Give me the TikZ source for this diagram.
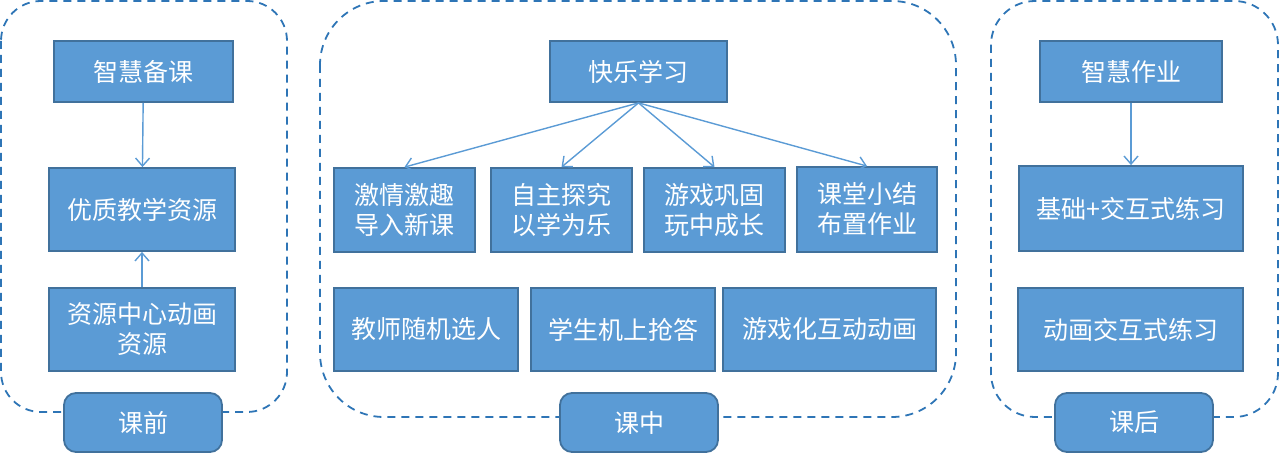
\documentclass[tikz,border=0pt]{standalone}
\usepackage{fontspec}
\setmainfont{Noto Sans CJK SC}
\usetikzlibrary{arrows.meta}

\definecolor{boxblue}{HTML}{5B9BD5}
\definecolor{edgeblue}{HTML}{41719C}
\definecolor{dashblue}{HTML}{2E75B6}

\begin{document}
\begin{tikzpicture}[
    x=0.5pt,y=-0.5pt,
	c_panel/.style={
		draw=dashblue,
		line width=0.9pt,
		dash pattern=on 4pt off 3pt
	},
	c_box/.style={
		draw=edgeblue,
		fill=boxblue,
		line width=0.9pt,
		text=white,
		align=center,
		inner sep=0pt,
		font=\fontsize{12.5}{15}\selectfont
	},
	c_stage/.style={
		c_box,
		rounded corners=6pt,
		minimum width=79pt,
		minimum height=29.5pt
	},
	c_arrow/.style={
		boxblue,
		line width=0.7pt,
		-{Straight Barb[length=4pt,width=7pt]}
	}
	]

			\useasboundingbox (0,0) rectangle (1280,453);

			% =========================================================================
			% 1. DASHED PANELS
			% =========================================================================

			\draw[c_panel, rounded corners=20pt]
			(1,1) rectangle (287,412);

			\draw[c_panel, rounded corners=32pt]
			(320,1) rectangle (956,417);

			\draw[c_panel, rounded corners=22pt]
			(991,1) rectangle (1278,417);

			% =========================================================================
			% 2. BEFORE CLASS
			% =========================================================================

			\node[c_box, minimum width=89.5pt, minimum height=30.5pt]
			(prep) at (143.5,71.5) {智慧备课};

			\node[c_box, minimum width=93pt, minimum height=41.5pt]
			(res) at (142,209.5) {优质教学资源};

			\node[c_box, minimum width=93pt, minimum height=41.5pt]
			(anim) at (142,329.5) {资源中心动画\\资源};

			\draw[c_arrow] (prep) -- (res);
			\draw[c_arrow] (anim) -- (res);

			\node[c_stage] (pre) at (143,422.5) {课前};

			% =========================================================================
			% 3. IN CLASS
			% =========================================================================

			\node[c_box, minimum width=88.5pt, minimum height=30.5pt]
			(joy) at (638.5,71.5) {快乐学习};

			% Four steps
			\node[c_box, minimum width=70.5pt, minimum height=42pt]
			(step1) at (404.5,210) {激情激趣\\导入新课};
			\node[c_box, minimum width=70.5pt, minimum height=42pt]
			(step2) at (561.5,210) {自主探究\\以学为乐};
			\node[c_box, minimum width=70.5pt, minimum height=42pt]
			(step3) at (714.5,210) {游戏巩固\\玩中成长};
			\node[c_box, minimum width=70pt, minimum height=42.5pt]
			(step4) at (867,209.5) {课堂小结\\布置作业};

			\foreach \s in {step1,step2,step3,step4}
			{
				\draw[c_arrow] (joy.south) -- (\s.north);
			}

			% Tools
			\node[c_box, minimum width=92pt, minimum height=41.5pt]
			(pick) at (426,329.5) {教师随机选人};
			\node[c_box, minimum width=92pt, minimum height=41.5pt]
			(grab) at (623,329.5) {学生机上抢答};
			\node[c_box, minimum width=106.5pt, minimum height=41.5pt]
			(game) at (829.5,329.5) {游戏化互动动画};

			\node[c_stage] (mid) at (639,422.5) {课中};

			% =========================================================================
			% 4. AFTER CLASS
			% =========================================================================

			\node[c_box, minimum width=91pt, minimum height=30.5pt]
			(hw) at (1131,71.5) {智慧作业};

			\node[c_box, minimum width=112pt, minimum height=42.5pt]
			(basic) at (1131,208.5) {基础+交互式练习};

			\node[c_box, minimum width=112.5pt, minimum height=41.5pt]
			(drill) at (1130.5,329.5) {动画交互式练习};

			\draw[c_arrow] (hw) -- (basic);

			\node[c_stage] (post) at (1134,422.5) {课后};

		\end{tikzpicture}
\end{document}
